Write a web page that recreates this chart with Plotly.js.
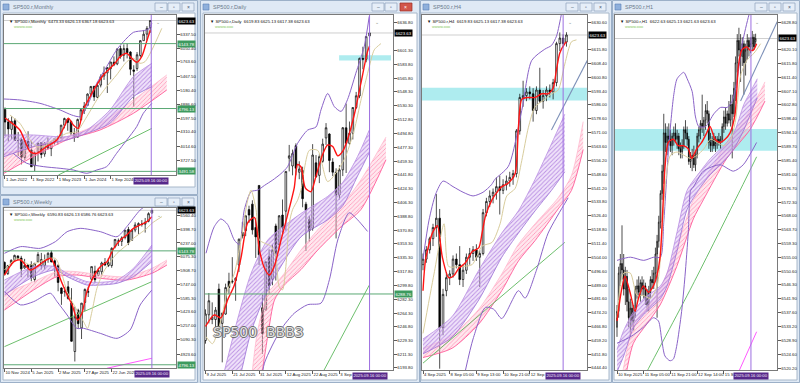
<!DOCTYPE html>
<html><head><meta charset="utf-8">
<script src="https://cdn.plot.ly/plotly-3.0.1.min.js"></script>
<style>html,body{margin:0;padding:0;background:#cfdcea;}#chart{width:800px;height:383px;}</style>
</head><body><div id="chart"></div>
<script>
// ---------------- MONTHLY (Jan 2022 .. Sep 2025) ----------------
const m_open =[4778,4519,4363,4540,4130,4149,3781,4112,3936,3609,3901,4087,3853,4070,3963,4102,4166,4180,4450,4578,4530,4284,4201,4564,4745,4862,5098,5258,5029,5283,5471,5537,5624,5758,5723,6040,5903,6041,5969,5598,5626,5897,6205,6341,6473.33];
const m_high =[4818,4595,4637,4593,4307,4177,4140,4325,4119,3906,4080,4101,4095,4195,4110,4170,4231,4458,4607,4584,4542,4393,4588,4793,4932,5111,5265,5264,5342,5505,5669,5651,5767,5878,6053,6100,6128,6147,5987,5695,5969,6215,6427,6508,6626.13];
const m_low  =[4222,4114,4157,4124,3810,3637,3721,3954,3584,3491,3698,3764,3795,3943,3808,4049,4048,4167,4385,4335,4238,4104,4197,4547,4682,4853,5056,4954,5012,5235,5391,5119,5403,5675,5696,5832,5774,5837,5488,4835,5578,5861,6201,6212,6367.18];
const m_close=[4515,4373,4530,4132,4132,3785,4130,3955,3586,3872,4080,3840,4077,3970,4109,4169,4180,4450,4589,4508,4288,4194,4568,4770,4846,5096,5254,5036,5278,5460,5522,5648,5762,5705,6032,5882,6041,5955,5612,5569,5912,6205,6339,6460,6623.63];
const m_tick_i=[0,8,16,24,32];
const m_tick_t=['1 Jan 2022','1 Sep 2022','1 May 2023','1 Jan 2024','1 Sep 2024'];
const m_yticks=[6337.50,6050.40,5763.60,5467.50,5180.40,4886.60,4597.50,4310.40,4014.60,3727.50];
const m_levels=[6143.78,4796.13,3491.58];
const m_date_i=44.3;
const m_red_x=[0,1.5,4.5,7.6,9.6,12.6,15.7,18.2,19.2,20.7,22.2,23.7,25.8,27.8,29.8,31.8,33.3,34.9,36.9,38.4,39.9,41.4,42.9,44];
const m_red_y=[4600,4524,4351,3901,3866,4005,4143,4455,4593,4455,4385,4766,5043,5285,5493,5631,5735,5873,5942,5839,5756,5873,6185,6420];
const m_tan_x=[1.5,4.5,7.6,9.6,11.6,14.6,16.7,18.7,21.7,24.8,27.8,30.8,33.8,36.9,38.9,40.9,42.4,44.5,47.5];
const m_tan_y=[4662,4489,4143,4005,4005,4143,4212,4282,4316,4628,4974,5250,5493,5769,5839,5735,5769,6012,6461];
const m_bbu_x=[-0.3,4.5,10.6,16.7,20.2,22.7,24.8,27.8,30.8,33.8,35.9,38.9,41.9,43.4,44.5];
const m_bbu_y=[4994,4974,4904,4766,4662,4628,4835,5320,5666,6012,6185,6378,6413,6440,6565];
const m_bbl_x=[2.5,6.6,11.6,16.7,20.7,24.8,27.8,30.8,33.8,36.9,39.9,41.9,44.5];
const m_bbl_y=[3866,3659,3590,3555,3520,3451,3520,3590,3866,4143,4420,4697,4904];
const m_rp_x=[-0.3,8.6,18.7,24.8,31.8,38.9,44.5];
const m_rp_hi=[4247,4247,4212,4351,4766,5458,5735];
const m_rp_lo=[3797,4005,4143,4282,4489,5043,5250];
const m_rk_x=[-0.3,8.6,18.7,28.8,38.9,49];
const m_rk_hi=[3866,4005,4212,4489,4974,5493];
const m_rk_lo=[3451,3797,4143,4351,4697,5181];
const m_grn_x=[16.2,44.5];
const m_grn_y=[3417,4385];

// ---------------- WEEKLY (10 Nov 2024 .. 14 Sep 2025) ----------------
const w_open =[6008,5875,5993,6040,6084,6058,5942,5977,5982,5805,6014,5970,5969,6046,6121,6026,5969,5705,5657,5718,5527,4953,5441,5232,5534,5655,5808,5903,5854,5897,6005,6004,5970,6194,6259,6256,6304,6397,6268,6390,6445,6457,6460,6494,6590.83];
const w_high =[6017,5978,6044,6099,6089,6085,6049,5986,6021,6000,6128,6120,6101,6128,6147,6043,5987,5712,5715,5787,5703,5482,5459,5528,5700,5720,5958,5968,5943,6016,6059,6059,6187,6284,6290,6316,6390,6428,6390,6482,6481,6508,6533,6600,6626.13];
const w_low  =[5853,5858,5972,6026,6035,5832,5932,5829,5784,5773,6009,5923,5923,6003,6009,5837,5666,5505,5602,5566,5069,4835,5220,5101,5433,5598,5786,5767,5843,5861,5963,5952,5944,6174,6201,6201,6280,6212,6268,6364,6344,6431,6360,6482,6586.76];
const w_close=[5870,5969,6032,6090,6051,5931,5971,5942,5827,5997,6101,6041,6026,6115,6013,5955,5770,5639,5667,5581,5074,5363,5283,5525,5687,5660,5958,5803,5912,6000,5977,5968,6173,6279,6260,6297,6389,6238,6389,6450,6467,6460,6482,6584,6623.63];
const w_tick_i=[0,8,16,24,32];
const w_tick_t=['10 Nov 2024','5 Jan 2025','2 Mar 2025','27 Apr 2025','22 Jun 2025'];
const w_yticks=[6560.40,6398.70,6237.00,6075.30,5908.70,5747.00,5585.30,5423.60,5257.00,5090.30,4923.60];
const w_levels=[6143.78,4796.13];
const w_date_i=44;
const w_red_x=[0,2.8,4.8,7.7,9.7,11.7,13.7,15.2,17.2,18.7,20.2,21.8,23.1,24.6,26.6,28.6,30.6,32.6,34.6,36.5,38.5,40.5,42.5,44];
const w_red_y=[5858,6016,6036,5917,5957,6016,6056,5957,5760,5622,5504,5326,5405,5661,5839,5957,6016,6174,6273,6332,6410,6450,6489,6549];
const w_tan_x=[0,3.8,7.7,11.7,15.2,17.2,18.7,20.2,21.6,23.6,24.8,26.1,27.6,29.6,31.6,33.6,36.5,38.5,40.5,42.5,44,47];
const w_tan_y=[5917,6056,5977,6036,6056,5858,5661,5543,5444,5306,5227,5425,5701,5898,6016,6115,6213,6292,6351,6410,6470,6549];
const w_bbu_x=[0,4.8,10.7,15.2,18.7,22.6,28.6,33.6,36.5,40.5,44];
const w_bbu_y=[6115,6194,6174,6253,6371,6410,6371,6312,6430,6627,6726];
const w_bbl_x=[0,4.8,8.7,13.7,15.7,18.7,21.6,23.6,28.6,33.6,37.5,40.5,44];
const w_bbl_y=[5661,5504,5543,5642,5543,5385,5227,5227,5168,5109,5208,5504,5681];
const w_rp_x=[0,8.7,15.2,18.7,24.6,28.6,33.6,38.5,44];
const w_rp_hi=[5799,5957,5957,5878,5780,5772,5799,5937,6213];
const w_rp_lo=[5622,5839,5917,5839,5740,5740,5760,5839,6016];
const w_rk_x=[0,8.7,15.7,21.6,28.6,36.5,44,48.5];
const w_rk_hi=[5642,5780,5898,5898,5858,5839,5937,6036];
const w_rk_lo=[5444,5681,5839,5858,5819,5799,5878,5977];
const w_grn_x=[0,44];
const w_grn_y=[5011,5780];
const w_mag_x=[30.6,44];
const w_mag_y=[4755,4873];

// ---------------- DAILY (9 Jul 2025 .. 16 Sep 2025) ----------------
const d_open =[6229,6262,6256,6256,6295,6251,6263,6305,6304,6306,6326,6368,6370,6397,6404,6374,6428,6271,6268,6337,6308,6376,6352,6390,6395,6463,6453,6479,6445,6447,6404,6384,6373,6457,6441,6459,6489,6494,6458,6445,6416,6448,6502,6482,6495,6528,6543,6591,6590,6619.83];
const d_high =[6269,6290,6278,6272,6302,6265,6302,6316,6336,6310,6360,6381,6390,6402,6409,6386,6428,6288,6330,6346,6353,6379,6390,6410,6446,6480,6474,6482,6459,6452,6407,6389,6481,6467,6468,6488,6508,6495,6463,6450,6454,6503,6533,6510,6528,6548,6592,6606,6620,6625.13];
const d_low  =[6225,6251,6250,6241,6242,6201,6262,6289,6302,6280,6317,6360,6363,6380,6365,6335,6326,6212,6268,6289,6300,6306,6345,6364,6370,6446,6441,6441,6436,6400,6344,6356,6370,6438,6431,6457,6480,6445,6440,6360,6410,6440,6444,6480,6487,6526,6540,6577,6586,6617.38];
const d_close=[6263,6280,6259,6268,6244,6264,6297,6297,6305,6309,6359,6363,6389,6390,6371,6362,6339,6238,6330,6299,6345,6340,6389,6374,6446,6466,6469,6450,6449,6411,6396,6370,6467,6439,6465,6481,6502,6460,6445,6416,6448,6502,6482,6495,6528,6543,6591,6590,6619,6623.63];
const d_tick_i=[0,8,16,24,32,40];
const d_tick_t=['9 Jul 2025','21 Jul 2025','31 Jul 2025','12 Aug 2025','22 Aug 2025','3 Sep'];
const d_yticks=[6636.80,6601.30,6583.80,6565.80,6548.30,6530.30,6512.80,6494.80,6477.30,6459.30,6441.80,6424.30,6406.30,6388.80,6370.80,6353.30,6335.30,6317.80,6299.80,6282.30,6264.30,6246.80,6229.30,6211.30,6193.80];
const d_levels=[6288.76];
const d_date_i=49;
const d_zone_x=[39.9,55.4];
const zone_y=[6588.4,6595.2];
const d_red_x=[0,2.6,4.6,6.6,8.6,10.6,12.6,14.6,16.1,17.6,19.1,20.6,22.5,24.5,26.5,27.5,28.5,29.8,31.5,33,35,36.5,38,39.5,41,42.5,44.5,46.4,48.4,49];
const d_red_y=[6247,6262,6258,6281,6300,6335,6380,6387,6345,6322,6313,6325,6357,6390,6425,6455,6452,6425,6420,6440,6468,6480,6478,6466,6472,6488,6520,6559,6600,6607];
const d_tan_x=[0.15,2.1,4.6,6.6,8.6,10.6,12.6,13.6,15.1,16.1,17.6,19.6,21,22,23,24,25,26,27.5,28.5,31,33.5,36.5,41.4,44.4,46.4,47.9,48.9,50.4,52.4];
const d_tan_y=[6234,6225,6255,6294,6315,6358,6409,6422,6397,6358,6354,6350,6337,6298,6294,6324,6379,6397,6409,6422,6473,6473,6433,6461,6499,6537,6563,6580,6602,6610];
const d_bbu_x=[0.15,2.6,4.6,6.6,8.6,10.1,11.6,13.6,15.6,17.6,20.1,22.5,24.5,27.5,30.5,33,34.5,36.5,38.5,40.5,42.4,44.9,47.4,48.9];
const d_bbu_y=[6341,6375,6385,6378,6358,6352,6397,6420,6422,6428,6435,6443,6452,6482,6499,6503,6525,6546,6529,6523,6538,6572,6606,6645];
const d_bbl_x=[16.5,17.6,22.5,26.5,30.5,34.5,37,39.5,42.9,45.4,48.4];
const d_bbl_y=[6170,6200,6243,6264,6275,6277,6307,6358,6393,6384,6369];
const d_rp_x=[4.5,9.5,13.6,18.6,28.5,36.5,41,45.4,48.9];
const d_rp_hi=[6170,6255,6315,6358,6392,6414,6432,6465,6499];
const d_rp_lo=[6120,6170,6240,6294,6362,6384,6402,6440,6470];
const d_rk_x=[13,15.5,18.6,20.6,23.5,28.5,33.5,40.5,46.4,53.9];
const d_rk_hi=[6150,6240,6290,6300,6315,6345,6371,6401,6435,6490];
const d_rk_lo=[6100,6150,6235,6281,6300,6320,6345,6375,6397,6461];
const d_grn_x=[35.4,48.9];
const d_grn_y=[6191,6300];

// ---------------- H4 (4 Sep 2025 .. 16 Sep 2025) ----------------
const h4_open =[6500,6503,6508,6514,6520,6525,6466,6486,6493,6495,6503,6500,6492,6497,6504,6506,6508,6504,6506,6528,6534,6537,6539,6542,6540,6543,6545,6547,6549,6572,6590,6591,6593,6592,6583,6594,6588,6591,6594,6593,6598,6619,6622,6619.83];
const h4_high =[6506,6510,6515,6522,6538,6530,6487,6496,6497,6505,6506,6510,6500,6506,6509,6510,6511,6508,6530,6536,6540,6541,6547,6548,6546,6548,6550,6551,6573,6592,6599,6595,6596,6595,6596,6606,6594,6596,6597,6600,6620,6625,6624,6625.13];
const h4_low  =[6497,6501,6506,6510,6515,6444,6462,6483,6489,6493,6498,6489,6488,6495,6500,6502,6502,6488,6505,6526,6531,6533,6535,6527,6538,6540,6542,6543,6547,6570,6585,6588,6589,6577,6581,6587,6584,6588,6590,6589,6596,6615,6617,6617.38];
const h4_close=[6503,6508,6514,6520,6525,6466,6484,6493,6495,6503,6500,6492,6497,6504,6506,6508,6504,6506,6528,6534,6537,6539,6542,6540,6543,6545,6547,6549,6572,6590,6591,6593,6592,6583,6594,6588,6591,6594,6593,6598,6619,6622,6619,6623.63];
const h4_tick_i=[0,8,16,24,32];
const h4_tick_t=['4 Sep 2025','8 Sep 05:00','9 Sep 13:00','10 Sep 21:00','12 Sep'];
const h4_yticks=[6630.60,6615.80,6608.40,6600.80,6593.40,6586.00,6578.60,6571.00,6563.60,6556.20,6548.60,6541.20,6533.80,6526.40,6518.80,6511.40,6504.00,6496.60,6489.00,6481.60,6474.20,6466.80,6459.20,6451.80,6444.40];
const h4_date_i=42;
const h4_red_x=[0,0.8,2.8,4.3,5.8,7.7,9.2,10.7,12.7,14.7,16.7,17.7,18.7,20.7,22.6,23.6,25.6,27.6,28.6,29.6,31.6,33.6,35.6,37.5,39,40,41,42.5,43];
const h4_red_y=[6486,6503,6517,6521,6504,6493,6494,6498,6501,6507,6509,6517,6526,6535,6540,6542,6544,6549,6574,6589,6590,6590,6592,6592,6595,6605,6614,6619,6620];
const h4_tan_x=[0,3.3,6.3,7.7,10.7,14.7,17.7,20.7,23.1,25.1,27.6,29.6,31.6,33.6,36.5,38.5,40.5,42.5,44.5,46];
const h4_tan_y=[6463,6495,6522,6499,6499,6500,6510,6512,6522,6537,6541,6556,6574,6585,6589,6592,6594,6608,6620,6621];
const h4_bbu_x=[0,1.8,3.8,6,9,12,15,18,20.5,21.6,25.6,29.6,32.6,36.5,38.5,40,41.5,42.3];
const h4_bbu_y=[6503,6524,6538,6545,6542,6539,6537,6539,6543,6546,6553,6583,6610,6616,6618,6623,6635,6642];
const h4_bbl_x=[12.7,15,18.7,21.2,23.6,28.6,30.6,34,37.5,42.5,43.5];
const h4_bbl_y=[6443,6460,6477,6476,6471,6486,6482,6497,6517,6533,6536];
const h4_rp_x=[0,8.7,16.7,23.6,28.6,33.6,38.5,42.5];
const h4_rp_hi=[6460,6472,6497,6517,6529,6546,6565,6581];
const h4_rp_lo=[6452,6461,6481,6504,6517,6529,6540,6550];
const h4_rk_x=[0,8.7,16.7,23.6,28.6,33.6,40.5,44.5,48];
const h4_rk_hi=[6455,6462,6476,6495,6511,6522,6536,6548,6577];
const h4_rk_lo=[6450,6455,6468,6486,6502,6513,6530,6540,6562];
const h4_grn_x=[0,42.5];
const h4_grn_y=[6447,6512];
const h4_trd_x=[38.5,53.4];
const h4_trd_y=[6572.5,6624.5];

// ---------------- H1 (10 Sep 2025 .. 16 Sep 2025) ----------------
const h1_open =[6533,6538,6550,6553,6551,6545,6549,6541,6536,6539,6535,6538,6545,6546,6544,6547,6545,6546,6542,6540,6544,6548,6547,6550,6556,6560,6566,6575,6582,6594,6591,6593,6592,6590,6593,6594,6592,6593,6589,6588,6590,6595,6594,6592,6585,6586,6587,6584,6587,6593,6595,6597,6596,6598,6601,6600,6591,6590,6592,6590,6591,6592,6591,6592,6596,6599,6597,6600,6598,6603,6600,6608,6616,6623,6620,6618,6622,6616,6620,6623,6621,6622,6624,6622.63];
const h1_high =[6540,6552,6556,6565,6556,6552,6551,6545,6542,6541,6540,6546,6548,6549,6548,6549,6548,6547,6545,6546,6549,6551,6552,6558,6562,6568,6576,6584,6600,6597,6596,6597,6595,6594,6596,6597,6595,6594,6591,6592,6596,6598,6596,6593,6588,6589,6590,6588,6594,6596,6598,6606,6599,6603,6604,6601,6594,6593,6594,6593,6593,6594,6593,6597,6601,6602,6601,6604,6606,6606,6610,6618,6625,6627,6625,6624,6623,6622,6625,6624,6624,6626,6625,6625.13];
const h1_low  =[6530,6536,6546,6548,6543,6540,6538,6533,6530,6533,6532,6536,6542,6543,6541,6543,6542,6540,6538,6538,6542,6545,6545,6548,6536,6558,6564,6573,6578,6588,6587,6590,6588,6587,6590,6591,6589,6587,6586,6586,6589,6592,6590,6584,6583,6582,6583,6582,6586,6591,6592,6594,6593,6595,6597,6589,6588,6588,6589,6588,6589,6590,6589,6591,6594,6595,6596,6597,6596,6586,6599,6604,6613,6618,6610,6615,6606,6612,6617,6618,6619,6620,6620,6621.63];
const h1_close=[6538,6550,6553,6551,6545,6549,6541,6536,6539,6535,6538,6545,6546,6544,6547,6545,6546,6542,6540,6544,6548,6547,6550,6556,6560,6566,6575,6582,6594,6591,6593,6592,6590,6593,6594,6592,6593,6589,6588,6590,6595,6594,6592,6585,6586,6587,6584,6587,6593,6595,6597,6596,6598,6601,6600,6591,6590,6592,6590,6591,6592,6591,6592,6596,6599,6597,6600,6598,6603,6600,6608,6616,6623,6620,6618,6622,6616,6620,6623,6621,6622,6624,6621,6623.63];
const h1_tick_i=[0,16,32,48,64];
const h1_tick_t=['10 Sep 2025','11 Sep 05:00','11 Sep 21:00','12 Sep 14:00','15 S'];
const h1_yticks=[6628.80,6620.10,6615.80,6611.40,6607.10,6602.80,6598.40,6594.10,6589.70,6585.40,6581.00,6576.70,6572.30,6568.00,6563.70,6559.30,6555.00,6550.60,6546.30,6541.90,6537.60,6533.20,6528.90,6524.60,6520.20];
const h1_date_i=80.2;
const h1_red_x=[0,2.8,4.8,7.8,10.8,12.8,15.8,18.8,21.8,23.8,25.8,27.7,28.7,30.7,33.7,36.7,39.7,42.7,44.7,47.7,50.7,53.7,55.7,58.7,61.7,64.7,67.7,70.7,72.7,74.7,77.7,79.6,81.6,83.6];
const h1_red_y=[6535,6545,6549,6544,6538,6542,6546,6544,6546,6549,6555,6573,6583,6591,6592,6590,6590,6589,6586,6589,6591,6594,6596,6592,6591,6592,6594,6600,6615,6620,6621,6620,6620,6622];
const h1_tan_x=[0,4,8,12,16,20,24,27,29,32,36,40,44,48,52,56,60,64,68,71,74,78,82,86];
const h1_tan_y=[6536,6550,6550,6543,6543,6542,6546,6562,6578,6587,6588,6587,6586,6587,6589,6592,6591,6590,6592,6598,6612,6617,6619,6622];
const h1_bbu_x=[0,8,16,22,26,28,31,34,36,40,42,45,47,49,53,58,62,66,69,72,75,79,81];
const h1_bbu_y=[6554,6555,6554,6555,6555,6566,6590,6606,6611,6613,6611,6607,6599,6596,6596,6600,6602,6602,6604,6611,6622,6631,6634];
const h1_bbl_x=[0,8,15.8,21.8,24.8,26.8,28.7,31.7,33.7,35.7,38.7,40.7,42.7,44.1,45.7,51.7,61.7,69.7,75.6,83.6];
const h1_bbl_y=[6528,6530,6533,6536,6535,6529,6524,6522.5,6523,6527,6538,6549,6563,6576,6577,6582,6584,6582,6584,6591];
const h1_rp_x=[0,4,10,16,26,30,36,42,50,56,64,70,76,80,84];
const h1_rp_hi=[6526,6532,6538,6542,6546,6550,6563,6576,6582,6586,6590,6594,6603,6607,6611];
const h1_rp_lo=[6519,6524,6533,6537,6542,6546,6557,6570,6577,6581,6585,6589,6595,6600,6605];
const h1_rk_x=[0,3.8,9.8,17.8,25.8,35.7,45.7,51.7,65.7,79.6,88.6];
const h1_rk_hi=[6512,6520,6534,6539,6545,6558,6573,6578,6591,6601,6610];
const h1_rk_lo=[6506,6514,6528,6534,6540,6552,6567,6573,6586,6595,6604];
const h1_grn_x=[14,15.8,45,73.7,83.6];
const h1_grn_y=[6515,6517,6546,6576,6586.5];
const h1_mag_x=[70.7,83.6];
const h1_mag_y=[6516.5,6531.6];
const h1_trd_x=[74,96];
const h1_trd_y=[6604,6629];

// ---------------- build ----------------
const W=800,H=383;
const px=x=>x/W, py=y=>1-y/H;
const FONT='"Liberation Sans", Arial, sans-serif';
const C={bb:'#8a63c8',red:'#ff1414',tan:'#d8cc9c',rpFill:'rgba(210,175,240,0.35)',rpPat:'#b98ee2',rpE1:'#b98ee2',rpE2:'#9a70d6',
  rkFill:'rgba(255,185,205,0.35)',rkPat:'#ff8fb4',rkE1:'#ff5b98',rkE2:'#ffb3ca',grn:'#5cb85c',lvl:'#5aa874',mag:'#ff45ff',trd:'#7d90b8',
  date:'#9d6fe0',price:'#cfcfcf',zone:'rgba(140,228,232,0.7)'};

const panels=[
 {name:'Monthly',hdr:'6473.33 6626.13 6367.18 6623.63',box:[4,176,15,175],xr:[-0.3,51.8],yr:[3416,6738],
  o:m_open,h:m_high,l:m_low,c:m_close,ti:m_tick_i,tt:m_tick_t,yt:m_yticks,lv:m_levels,di:m_date_i,
  red:[m_red_x,m_red_y],tan:[m_tan_x,m_tan_y],bbu:[m_bbu_x,m_bbu_y],bbl:[m_bbl_x,m_bbl_y],
  rp:[m_rp_x,m_rp_lo,m_rp_hi],rk:[m_rk_x,m_rk_lo,m_rk_hi],grn:[m_grn_x,m_grn_y]},
 {name:'Weekly',hdr:'6590.83 6626.13 6586.76 6623.63',box:[4,176,208,368],xr:[-0.15,51.2],yr:[4758,6651],
  o:w_open,h:w_high,l:w_low,c:w_close,ti:w_tick_i,tt:w_tick_t,yt:w_yticks,lv:w_levels,di:w_date_i,
  red:[w_red_x,w_red_y],tan:[w_tan_x,w_tan_y],bbu:[w_bbu_x,w_bbu_y],bbl:[w_bbl_x,w_bbl_y],
  rp:[w_rp_x,w_rp_lo,w_rp_hi],rk:[w_rk_x,w_rk_lo,w_rk_hi],grn:[w_grn_x,w_grn_y],mag:[w_mag_x,w_mag_y]},
 {name:'Daily',hdr:'6619.83 6625.13 6617.38 6623.63',box:[205,393,15,370],xr:[-0.15,56.0],yr:[6191.2,6646.7],
  o:d_open,h:d_high,l:d_low,c:d_close,ti:d_tick_i,tt:d_tick_t,yt:d_yticks,lv:d_levels,di:d_date_i,zone:d_zone_x,
  red:[d_red_x,d_red_y],tan:[d_tan_x,d_tan_y],bbu:[d_bbu_x,d_bbu_y],bbl:[d_bbl_x,d_bbl_y],
  rp:[d_rp_x,d_rp_lo,d_rp_hi],rk:[d_rk_x,d_rk_lo,d_rk_hi],grn:[d_grn_x,d_grn_y]},
 {name:'H4',hdr:'6619.83 6625.13 6617.38 6623.63',box:[422,587,15,370],xr:[-0.3,49.15],yr:[6443.3,6634.4],
  o:h4_open,h:h4_high,l:h4_low,c:h4_close,ti:h4_tick_i,tt:h4_tick_t,yt:h4_yticks,lv:[],di:h4_date_i,zone:'full',
  red:[h4_red_x,h4_red_y],tan:[h4_tan_x,h4_tan_y],bbu:[h4_bbu_x,h4_bbu_y],bbl:[h4_bbl_x,h4_bbl_y],
  rp:[h4_rp_x,h4_rp_lo,h4_rp_hi],rk:[h4_rk_x,h4_rk_lo,h4_rk_hi],grn:[h4_grn_x,h4_grn_y],trd:[h4_trd_x,h4_trd_y]},
 {name:'H1',hdr:'6622.63 6625.13 6621.63 6623.63',box:[615,777,15,370],xr:[-1.2,95.8],yr:[6519.6,6631.0],
  o:h1_open,h:h1_high,l:h1_low,c:h1_close,ti:h1_tick_i,tt:h1_tick_t,yt:h1_yticks,lv:[],di:h1_date_i,zone:'full',
  red:[h1_red_x,h1_red_y],tan:[h1_tan_x,h1_tan_y],bbu:[h1_bbu_x,h1_bbu_y],bbl:[h1_bbl_x,h1_bbl_y],
  rp:[h1_rp_x,h1_rp_lo,h1_rp_hi],rk:[h1_rk_x,h1_rk_lo,h1_rk_hi],grn:[h1_grn_x,h1_grn_y],mag:[h1_mag_x,h1_mag_y],trd:[h1_trd_x,h1_trd_y]}
];

const wins=[
 {r:[0,198,0,195],c:[3,195,13,187],t:'SP500.r,Monthly',b:[155,168,182]},
 {r:[0,198,195,383],c:[3,195,207,380],t:'SP500.r,Weekly',b:[155,168,182]},
 {r:[200,420,0,383],c:[203,417,13,380],t:'SP500.r,Daily',b:[372,385,400],active:true},
 {r:[420,612,0,383],c:[421,609,13,380],t:'SP500.r,H4',b:[566,580,594]},
 {r:[612,800,0,383],c:[614,797,13,380],t:'SP500.r,H1',b:[755,769,783]}
];

const data=[], shapes=[], ann=[];
const layout={width:W,height:H,margin:{l:0,r:0,t:0,b:0},paper_bgcolor:'#cfdcea',plot_bgcolor:'rgba(0,0,0,0)',
  showlegend:false,hovermode:false,font:{family:FONT,size:4,color:'#222'}};

wins.forEach(w=>{
  shapes.push({type:'rect',xref:'paper',yref:'paper',layer:'below',x0:px(w.r[0]+0.5),x1:px(w.r[1]-0.5),y0:py(w.r[3]-0.5),y1:py(w.r[2]+0.5),
    fillcolor:'#dfe9f5',line:{color:'#9cb0c8',width:1}});
  shapes.push({type:'rect',xref:'paper',yref:'paper',layer:'below',x0:px(w.c[0]),x1:px(w.c[1]),y0:py(w.c[3]),y1:py(w.c[2]),
    fillcolor:'#ffffff',line:{color:'#a8b8ca',width:1}});
  const ty=w.r[2];
  shapes.push({type:'rect',xref:'paper',yref:'paper',layer:'below',x0:px(w.r[0]+3),x1:px(w.r[0]+9),y0:py(ty+10),y1:py(ty+4),
    fillcolor:'#8fb0dc',line:{color:'#5a7fb5',width:0.6}});
  ann.push({xref:'paper',yref:'paper',x:px(w.r[0]+11),y:py(ty+7),xanchor:'left',yanchor:'middle',showarrow:false,
    text:w.t,font:{family:FONT,size:5.5,color:'#6b7a8c'}});
  w.b.forEach((bx,j)=>{
    const isClose=(j===2);
    shapes.push({type:'rect',xref:'paper',yref:'paper',layer:'above',x0:px(bx),x1:px(bx+12),y0:py(ty+11),y1:py(ty+3),
      fillcolor:(isClose&&w.active)?'#d2564a':'#e6eef8',line:{color:(isClose&&w.active)?'#9e2e25':'#8ea2bb',width:0.7}});
    const g=j===0?'–':(j===1?'▫':'×');
    ann.push({xref:'paper',yref:'paper',x:px(bx+6),y:py(ty+7),xanchor:'center',yanchor:'middle',showarrow:false,
      text:g,font:{family:FONT,size:5,color:(isClose&&w.active)?'#ffffff':'#44556a'}});
  });
});

function sc(ax,xs,ys,color,width,extra){
  return Object.assign({type:'scatter',mode:'lines',x:xs,y:ys,xaxis:'x'+ax,yaxis:'y'+ax,
    line:{color:color,width:width,shape:'spline',smoothing:0.7},hoverinfo:'skip',showlegend:false},extra||{});
}

panels.forEach((P,k)=>{
  const ax=k===0?'':String(k+1);
  const xa='x'+ax, ya='y'+ax;
  const idx=P.c.map((_,i)=>i);
  const [X0,X1,Y0,Y1]=P.box;
  data.push(sc(ax,P.rk[0],P.rk[1],C.rkE1,0.9));
  data.push(sc(ax,P.rk[0],P.rk[2],C.rkE2,0.7,{fill:'tonexty',fillcolor:C.rkFill,
    fillpattern:{shape:'/',fgcolor:C.rkPat,bgcolor:C.rkFill,size:3,solidity:0.25}}));
  data.push(sc(ax,P.rp[0],P.rp[1],C.rpE2,0.8));
  data.push(sc(ax,P.rp[0],P.rp[2],C.rpE1,0.8,{fill:'tonexty',fillcolor:C.rpFill,
    fillpattern:{shape:'/',fgcolor:C.rpPat,bgcolor:C.rpFill,size:3,solidity:0.3}}));
  data.push(sc(ax,P.grn[0],P.grn[1],C.grn,0.9));
  if(P.mag) data.push(sc(ax,P.mag[0],P.mag[1],C.mag,0.9));
  data.push(sc(ax,P.bbu[0],P.bbu[1],C.bb,1));
  data.push(sc(ax,P.bbl[0],P.bbl[1],C.bb,1));
  data.push(sc(ax,P.tan[0],P.tan[1],C.tan,1));
  if(P.trd) data.push({type:'scatter',mode:'lines',x:P.trd[0],y:P.trd[1],xaxis:xa,yaxis:ya,line:{color:C.trd,width:1.1},hoverinfo:'skip',showlegend:false});
  data.push({type:'candlestick',x:idx,open:P.o,high:P.h,low:P.l,close:P.c,xaxis:xa,yaxis:ya,whiskerwidth:0,
    increasing:{line:{color:'#000',width:0.7},fillcolor:'#ffffff'},
    decreasing:{line:{color:'#000',width:0.7},fillcolor:'#000000'},hoverinfo:'skip',showlegend:false});
  data.push(sc(ax,P.red[0],P.red[1],C.red,1.4));

  layout['xaxis'+ax]={domain:[px(X0),px(X1)],range:P.xr,anchor:ya,tickmode:'array',tickvals:P.ti,ticktext:P.tt,
    ticks:'outside',ticklen:2.5,tickwidth:0.8,tickcolor:'#333',tickfont:{family:FONT,size:4.3,color:'#222'},
    ticklabelposition:'outside right',tickangle:0,showgrid:false,zeroline:false,showline:true,mirror:true,
    linecolor:'#7a7a7a',linewidth:1,rangeslider:{visible:false},fixedrange:true};
  layout['yaxis'+ax]={domain:[py(Y1),py(Y0)],range:P.yr,anchor:xa,side:'right',tickmode:'array',tickvals:P.yt,
    ticktext:P.yt.map(v=>v.toFixed(2)),ticks:'outside',ticklen:2.5,tickwidth:0.8,tickcolor:'#333',
    tickfont:{family:FONT,size:4.3,color:'#222'},showgrid:false,zeroline:false,showline:true,mirror:true,
    linecolor:'#7a7a7a',linewidth:1,fixedrange:true};

  const last=P.c[P.c.length-1];
  if(P.zone==='full') shapes.push({type:'rect',xref:xa+' domain',yref:ya,x0:0,x1:1,y0:zone_y[0],y1:zone_y[1],layer:'below',fillcolor:C.zone,line:{width:0}});
  else if(P.zone) shapes.push({type:'rect',xref:xa,yref:ya,x0:P.zone[0],x1:P.zone[1],y0:zone_y[0],y1:zone_y[1],layer:'below',fillcolor:C.zone,line:{width:0}});
  shapes.push({type:'line',xref:xa+' domain',yref:ya,x0:0,x1:1,y0:last,y1:last,layer:'below',line:{color:C.price,width:1}});
  P.lv.forEach(v=>{
    shapes.push({type:'line',xref:xa+' domain',yref:ya,x0:0,x1:1,y0:v,y1:v,line:{color:C.lvl,width:1}});
    ann.push({xref:'paper',yref:ya,x:px(X1+1),y:v,xanchor:'left',yanchor:'middle',showarrow:false,text:v.toFixed(2),
      bgcolor:'#3d9a5e',borderpad:0.6,font:{family:FONT,size:4.3,color:'#ffffff'}});
  });
  shapes.push({type:'line',xref:xa,yref:ya+' domain',x0:P.di,x1:P.di,y0:0,y1:1,line:{color:C.date,width:1}});
  ann.push({xref:xa,yref:'paper',x:P.di,y:py(Y1+1.5),xanchor:'center',yanchor:'top',showarrow:false,text:'2025.09.16 00:00',
    bgcolor:'#57288a',borderpad:0.4,font:{family:FONT,size:4.2,color:'#f4eefc'}});
  ann.push({xref:xa,yref:'paper',x:P.di+(P.xr[1]-P.xr[0])*0.04,y:py(Y0+2),xanchor:'center',yanchor:'top',showarrow:false,text:'⌄',
    font:{family:FONT,size:5,color:'#888'}});
  ann.push({xref:'paper',yref:ya,x:px(X1+1),y:last,xanchor:'left',yanchor:'middle',showarrow:false,text:last.toFixed(2),
    bgcolor:'#000000',borderpad:0.6,font:{family:FONT,size:4.3,color:'#ffffff'}});
  ann.push({xref:'paper',yref:'paper',x:px(X0+3),y:py(Y0+2),xanchor:'left',yanchor:'top',showarrow:false,
    text:'▼ SP500.r,'+P.name+'  '+P.hdr,font:{family:FONT,size:4.3,color:'#111'}});
  ann.push({xref:'paper',yref:'paper',x:px(X0+8),y:py(Y0+7.5),xanchor:'left',yanchor:'top',showarrow:false,
    text:'wwww.ooo',font:{family:FONT,size:3.8,color:'#86c95e'}});
});

ann.push({xref:'paper',yref:'paper',x:px(258),y:py(332),xanchor:'center',yanchor:'middle',showarrow:false,text:'SP500  BBB3',
  font:{family:'"DejaVu Sans", sans-serif',size:14,color:'#e2e2e2',shadow:'1px 0 0 #6e6e6e, -1px 0 0 #6e6e6e, 0 1px 0 #6e6e6e, 0 -1px 0 #6e6e6e'}});

layout.shapes=shapes;
layout.annotations=ann;
Plotly.newPlot('chart',data,layout,{displayModeBar:false,staticPlot:true});
</script></body></html>
